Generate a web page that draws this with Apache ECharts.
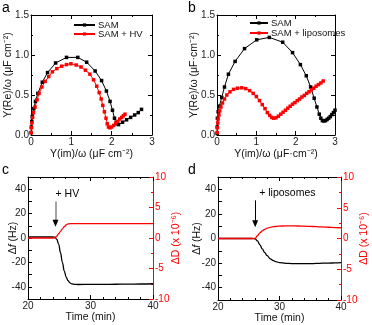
<!DOCTYPE html>
<html>
<head>
<meta charset="utf-8">
<script src="https://cdn.jsdelivr.net/npm/echarts@6/dist/echarts.min.js"></script>
<style>
  html, body { margin: 0; padding: 0; background: #fff; }
  #chart { width: 372px; height: 325px; }
</style>
</head>
<body>
<div id="chart"></div>
<script>
// panel a : Cole-Cole, SAM vs SAM + HV
var aSamX = [0.005, 0.01, 0.02, 0.03, 0.05, 0.07, 0.11, 0.17, 0.28, 0.41, 0.61, 0.88, 1.16, 1.38, 1.59, 1.75, 1.87, 1.96, 2.02, 2.07, 2.11, 2.17, 2.27, 2.37, 2.47, 2.57, 2.66, 2.74];
var aSamY = [0.03, 0.1, 0.17, 0.23, 0.28, 0.33, 0.42, 0.52, 0.66, 0.78, 0.9, 0.97, 0.97, 0.91, 0.8, 0.68, 0.55, 0.42, 0.31, 0.21, 0.14, 0.13, 0.16, 0.19, 0.22, 0.25, 0.28, 0.32];
var aHvX = [0.005, 0.01, 0.02, 0.04, 0.06, 0.1, 0.15, 0.2, 0.27, 0.35, 0.44, 0.53, 0.64, 0.76, 0.88, 0.99, 1.12, 1.24, 1.35, 1.46, 1.55, 1.63, 1.69, 1.74, 1.78, 1.82, 1.86, 1.89, 1.92, 1.96, 2.0, 2.05, 2.1, 2.15, 2.2, 2.25, 2.29, 2.33];
var aHvY = [0.03, 0.09, 0.15, 0.22, 0.28, 0.35, 0.44, 0.52, 0.6, 0.67, 0.73, 0.79, 0.83, 0.86, 0.88, 0.89, 0.875, 0.85, 0.81, 0.76, 0.69, 0.61, 0.53, 0.45, 0.37, 0.29, 0.21, 0.14, 0.1, 0.09, 0.1, 0.12, 0.15, 0.17, 0.2, 0.22, 0.24, 0.26];

// panel b : Cole-Cole, SAM vs SAM + liposomes
var bSamX = [0.003, 0.005, 0.01, 0.03, 0.06, 0.12, 0.19, 0.29, 0.46, 0.7, 1.01, 1.33, 1.67, 1.92, 2.12, 2.27, 2.38, 2.47, 2.54, 2.6, 2.64, 2.68, 2.72, 2.76, 2.8, 2.84, 2.88, 2.92, 2.96, 3.0];
var bSamY = [0.02, 0.1, 0.21, 0.29, 0.36, 0.47, 0.6, 0.76, 0.92, 1.08, 1.19, 1.22, 1.16, 1.03, 0.88, 0.74, 0.6, 0.46, 0.35, 0.26, 0.21, 0.18, 0.175, 0.18, 0.195, 0.21, 0.23, 0.255, 0.28, 0.31];
var bLipX = [0.005, 0.01, 0.02, 0.03, 0.05, 0.07, 0.1, 0.14, 0.19, 0.25, 0.33, 0.42, 0.52, 0.63, 0.73, 0.83, 0.92, 1.0, 1.08, 1.15, 1.22, 1.28, 1.34, 1.39, 1.44, 1.5, 1.56, 1.62, 1.68, 1.74, 1.8, 1.86, 1.92, 1.98, 2.04, 2.1, 2.16, 2.22, 2.28, 2.34, 2.4, 2.46, 2.52, 2.58, 2.64, 2.7];
var bLipY = [0.03, 0.09, 0.15, 0.2, 0.25, 0.3, 0.35, 0.4, 0.45, 0.5, 0.54, 0.57, 0.585, 0.59, 0.58, 0.555, 0.52, 0.48, 0.43, 0.38, 0.33, 0.28, 0.245, 0.22, 0.21, 0.215, 0.235, 0.26, 0.285, 0.31, 0.335, 0.36, 0.385, 0.405, 0.43, 0.45, 0.475, 0.495, 0.52, 0.54, 0.565, 0.585, 0.61, 0.63, 0.65, 0.675];

// panel c : QCM-D, + HV
var cTime = [20, 22, 24, 24.3, 24.6, 24.9, 25.2, 25.5, 25.8, 26.1, 26.4, 26.7, 27.0, 27.5, 28, 30, 32, 34, 36, 38, 40];
var cFreq = [0.8, 0.8, 0.8, 0.6, -1, -5, -12, -20, -27, -32, -35, -36.8, -37.6, -38, -38.1, -38, -38, -37.9, -37.8, -37.7, -37.5];
var cDiss = [0, 0, 0, 0.02, 0.3, 0.7, 1.1, 1.5, 1.85, 2.15, 2.3, 2.35, 2.35, 2.35, 2.35, 2.35, 2.35, 2.35, 2.35, 2.35, 2.35];

// panel d : QCM-D, + liposomes
var dTime = [20, 22, 24, 25.5, 26.05, 26.4, 26.8, 27.2, 27.6, 28.0, 28.5, 29, 29.5, 30, 31, 32, 33, 34, 35, 36, 37, 38, 39, 40];
var dFreq = [0, 0, 0, 0, -0.3, -2, -5, -8.5, -11.5, -14, -16.5, -18, -19, -19.6, -20.2, -20.4, -20.5, -20.5, -20.4, -20.3, -20.1, -20, -19.8, -19.6];
var dDiss = [0, 0, 0, 0, 0.02, 0.45, 0.9, 1.25, 1.5, 1.68, 1.82, 1.92, 1.98, 2.02, 2.05, 2.05, 2.03, 2.0, 1.97, 1.93, 1.88, 1.83, 1.78, 1.75];

// injection arrows [time, top, bottom]
var cArrow = [24.4, 30, 12];
var dArrow = [26.05, 31, 12];

var FONT = '"Liberation Sans", Arial, sans-serif';
var RED = '#ff0000';

function pairs(xs, ys) {
  return xs.map(function (x, i) { return [x, ys[i]]; });
}

function axis(grid, pos, min, max, interval, minor, color, opts) {
  var ax = {
    type: 'value', gridIndex: grid, position: pos,
    min: min, max: max, interval: interval,
    splitLine: { show: false },
    axisLine: { onZero: false, lineStyle: { color: color, width: 1 } },
    axisTick: { inside: true, length: 4, lineStyle: { color: color } },
    minorTick: { show: true, splitNumber: minor, length: 2, lineStyle: { color: color } },
    axisLabel: { show: false }
  };
  if (opts) {
    var txt = color === '#000' ? '#111' : color;
    ax.axisLabel = { show: true, margin: 2, color: color === '#000' ? '#222' : color,
      fontFamily: FONT, fontSize: 10, formatter: opts.fmt };
    ax.name = opts.name;
    ax.nameLocation = 'middle';
    ax.nameGap = opts.gap;
    ax.nameMoveOverlap = false;
    if (pos === 'left' || pos === 'right') ax.nameRotate = 90;
    ax.nameTextStyle = {
      color: txt, fontFamily: FONT, fontSize: 10.5,
      rich: {
        n: { color: txt, fontFamily: FONT, fontSize: 10.5 },
        i: { color: txt, fontFamily: FONT, fontSize: 10.5, fontStyle: 'italic' }
      }
    };
  }
  return ax;
}

function fixed1(v) { return v.toFixed(1); }
function every20(v) { return (v % 20 === 0 && Math.abs(v) < 50) ? String(v) : ''; }

var freqTitle = '{n|Δ}{i|f}{n| (Hz)}';

function draw_chart() {
  var dom = document.getElementById('chart');
  var myChart = echarts.init(dom, null, { renderer: 'canvas' });

  var option = {
    animation: false,
    textStyle: { fontFamily: FONT },
    grid: [
      { left: 31, top: 15, width: 121, height: 120 },
      { left: 217, top: 15, width: 118, height: 120 },
      { left: 28, top: 177, width: 125, height: 122 },
      { left: 218, top: 177, width: 123, height: 123 }
    ],
    xAxis: [
      axis(0, 'bottom', 0, 3, 1, 2, '#000', { name: 'Y(im)/ω (μF cm⁻²)', gap: 14 }),
      axis(0, 'top', 0, 3, 1, 2, '#000'),
      axis(1, 'bottom', 0, 3, 1, 2, '#000', { name: 'Y(im)/ω (μF·cm⁻²)', gap: 14 }),
      axis(1, 'top', 0, 3, 1, 2, '#000'),
      axis(2, 'bottom', 20, 40, 10, 5, '#000', { name: 'Time (min)', gap: 13 }),
      axis(2, 'top', 20, 40, 10, 5, '#000'),
      axis(3, 'bottom', 20, 40, 10, 5, '#000', { name: 'Time (min)', gap: 13 }),
      axis(3, 'top', 20, 40, 10, 5, '#000')
    ],
    yAxis: [
      axis(0, 'left', 0, 1.5, 0.5, 2, '#000', { name: 'Y(Re)/ω (μF cm⁻²)', gap: 17, fmt: fixed1 }),
      axis(0, 'right', 0, 1.5, 0.5, 2, '#000'),
      axis(1, 'left', 0, 1.5, 0.5, 2, '#000', { name: 'Y(Re)/ω (μF·cm⁻²)', gap: 17, fmt: fixed1 }),
      axis(1, 'right', 0, 1.5, 0.5, 2, '#000'),
      axis(2, 'left', -50, 50, 10, 1, '#000', { name: freqTitle, gap: 9, fmt: every20 }),
      axis(2, 'right', -10, 10, 5, 2, RED, { name: 'ΔD (x 10⁻⁶)', gap: 18 }),
      axis(3, 'left', -50, 50, 10, 1, '#000', { name: freqTitle, gap: 15, fmt: every20 }),
      axis(3, 'right', -10, 10, 5, 2, RED, { name: 'ΔD (x 10⁻⁶)', gap: 18 })
    ],
    legend: [
      {
        left: 73, top: 20, orient: 'vertical', selectedMode: false, padding: 0,
        itemWidth: 21, itemHeight: 4, itemGap: -1,
        textStyle: { fontSize: 9.5, color: '#111', fontFamily: FONT, padding: [0, 0, 0, -2] },
        data: ['SAM', 'SAM + HV']
      },
      {
        left: 249, top: 18, orient: 'vertical', selectedMode: false, padding: 0,
        itemWidth: 18, itemHeight: 4, itemGap: 0,
        textStyle: { fontSize: 9.5, color: '#111', fontFamily: FONT, padding: [0, 0, 0, -2] },
        data: ['SAM', 'SAM + liposomes']
      }
    ],
    graphic: [
      { type: 'text', left: 2, top: 1, style: { text: 'a', fontSize: 14, fontFamily: FONT, fill: '#000' } },
      { type: 'text', left: 188, top: 1, style: { text: 'b', fontSize: 14, fontFamily: FONT, fill: '#000' } },
      { type: 'text', left: 2, top: 163, style: { text: 'c', fontSize: 14, fontFamily: FONT, fill: '#000' } },
      { type: 'text', left: 188, top: 163, style: { text: 'd', fontSize: 14, fontFamily: FONT, fill: '#000' } }
    ],
    series: [
      {
        name: 'SAM', type: 'line', xAxisIndex: 0, yAxisIndex: 0,
        data: pairs(aSamX, aSamY), symbol: 'rect', symbolSize: 3.5,
        lineStyle: { color: '#000', width: 1 }, itemStyle: { color: '#000' }
      },
      {
        name: 'SAM + HV', type: 'line', xAxisIndex: 0, yAxisIndex: 0,
        data: pairs(aHvX, aHvY), symbol: 'rect', symbolSize: 3.5,
        lineStyle: { color: RED, width: 1 }, itemStyle: { color: RED }
      },
      {
        name: 'SAM', type: 'line', xAxisIndex: 2, yAxisIndex: 2,
        data: pairs(bSamX, bSamY), symbol: 'rect', symbolSize: 3.5,
        lineStyle: { color: '#000', width: 1 }, itemStyle: { color: '#000' }
      },
      {
        name: 'SAM + liposomes', type: 'line', xAxisIndex: 2, yAxisIndex: 2,
        data: pairs(bLipX, bLipY), symbol: 'rect', symbolSize: 3.5,
        lineStyle: { color: RED, width: 1 }, itemStyle: { color: RED }
      },
      {
        name: 'c frequency', type: 'line', xAxisIndex: 4, yAxisIndex: 4,
        data: pairs(cTime, cFreq), showSymbol: false, smooth: 0.4, smoothMonotone: 'x',
        lineStyle: { color: '#000', width: 1.3 },
        markLine: {
          silent: true, symbol: ['none', 'none'], label: { show: false },
          data: [
            [{ coord: [cArrow[0], cArrow[1]], lineStyle: { color: '#8c8c8c', width: 1.6, type: 'solid' } },
             { coord: [cArrow[0], cArrow[2]], lineStyle: { color: '#8c8c8c', width: 1.6, type: 'solid' } }],
            [{ coord: [cArrow[0], cArrow[2] + 1], lineStyle: { color: '#000', width: 1, type: 'solid' } },
             { coord: [cArrow[0], cArrow[2]], symbol: 'triangle', symbolSize: [6, 7], lineStyle: { color: '#000', width: 1, type: 'solid' } }]
          ]
        },
        markPoint: {
          silent: true, symbol: 'circle', symbolSize: 0,
          data: [{ coord: [cArrow[0], cArrow[1]] }],
          label: { show: true, formatter: '+ HV', position: [0, -13], color: '#000', fontSize: 10.5, fontFamily: FONT }
        }
      },
      {
        name: 'c dissipation', type: 'line', xAxisIndex: 4, yAxisIndex: 5,
        data: pairs(cTime, cDiss), showSymbol: false, smooth: 0.4, smoothMonotone: 'x',
        lineStyle: { color: RED, width: 1.3 }
      },
      {
        name: 'd frequency', type: 'line', xAxisIndex: 6, yAxisIndex: 6,
        data: pairs(dTime, dFreq), showSymbol: false, smooth: 0.4, smoothMonotone: 'x',
        lineStyle: { color: '#000', width: 1.3 },
        markLine: {
          silent: true, symbol: ['none', 'none'], label: { show: false },
          data: [
            [{ coord: [dArrow[0], dArrow[1]], lineStyle: { color: '#000', width: 1, type: 'solid' } },
             { coord: [dArrow[0], dArrow[2]], symbol: 'triangle', symbolSize: [6, 7], lineStyle: { color: '#000', width: 1, type: 'solid' } }]
          ]
        },
        markPoint: {
          silent: true, symbol: 'circle', symbolSize: 0,
          data: [{ coord: [dArrow[0], dArrow[1]] }],
          label: { show: true, formatter: '+ liposomes', position: [4, -13], color: '#000', fontSize: 10.5, fontFamily: FONT }
        }
      },
      {
        name: 'd dissipation', type: 'line', xAxisIndex: 6, yAxisIndex: 7,
        data: pairs(dTime, dDiss), showSymbol: false, smooth: 0.4, smoothMonotone: 'x',
        lineStyle: { color: RED, width: 1.3 }
      }
    ]
  };

  myChart.setOption(option);
  window.addEventListener('resize', myChart.resize);
}

draw_chart();
</script>
</body>
</html>
